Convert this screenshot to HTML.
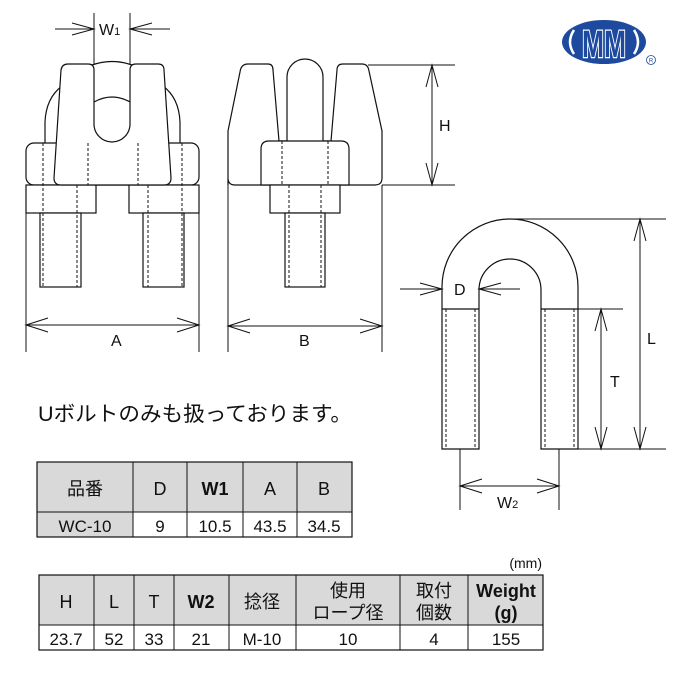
<!DOCTYPE html>
<html><head><meta charset="utf-8"><style>
html,body{margin:0;padding:0;background:#fff}
svg{display:block}
text{font-family:"Liberation Sans","Noto Sans CJK JP",sans-serif;fill:#111}
.l{stroke:#111;stroke-width:1.2;fill:none}
.f{stroke:#111;stroke-width:1.2;fill:#fff}
.d{stroke:#111;stroke-width:1;stroke-dasharray:3,2;fill:none}
.t{stroke:#111;stroke-width:1;fill:none}
</style></head><body>
<svg width="680" height="680" viewBox="0 0 680 680" xmlns="http://www.w3.org/2000/svg">
<!-- LEFT CLIP -->
<path class="l" d="M45,143 L45,122 Q46,98 62,86"/>
<path class="l" d="M180,143 L180,122 Q179,98 163,86"/>
<rect class="f" x="26" y="143" width="173" height="42" rx="8"/>
<rect class="f" x="26" y="185" width="70" height="28"/>
<rect class="f" x="129" y="185" width="70" height="28"/>
<rect class="f" x="40" y="213" width="41" height="74"/>
<rect class="f" x="143" y="213" width="41" height="74"/>
<path class="f" d="M68,64 L88,64 Q94,64 94,70 L94,124 A18,18 0 0 0 130,124 L130,70 Q130,64 136,64 L158,64 Q164,64 164,70 L171,178 Q171,185 164,185 L61,185 Q54,185 54,178 L61,70 Q62,64 68,64 Z"/>
<path class="l" d="M92,65 Q112,58 132,65"/>
<path class="l" d="M94,102 Q112,92 130,102"/>
<line class="d" x1="43" y1="143" x2="43" y2="287"/>
<line class="d" x1="77" y1="185" x2="77" y2="287"/>
<line class="d" x1="88" y1="143" x2="88" y2="185"/>
<line class="d" x1="138" y1="143" x2="138" y2="185"/>
<line class="d" x1="148" y1="185" x2="148" y2="287"/>
<line class="d" x1="182" y1="143" x2="182" y2="287"/>
<!-- W1 -->
<line class="t" x1="94" y1="13" x2="94" y2="64"/>
<line class="t" x1="130" y1="13" x2="130" y2="64"/>
<path class="t" d="M55,29 L94,29 M72,23 L94,29 L72,35"/>
<path class="t" d="M130,29 L170,29 M152,23 L130,29 L152,35"/>
<text x="99" y="35" font-size="16">W<tspan font-size="11">1</tspan></text>
<!-- A -->
<line class="t" x1="26" y1="185" x2="26" y2="352"/>
<line class="t" x1="199" y1="185" x2="199" y2="352"/>
<path class="t" d="M26,325 L199,325 M48,318 L26,325 L48,332 M177,318 L199,325 L177,332"/>
<text x="111" y="346" font-size="16">A</text>
<!-- MIDDLE CLIP -->
<path class="f" d="M228,185 L228,131 L240,72 Q241,64 248,64 L268,64 Q273,64 273,70 L279,141 L331,141 L337,70 Q337,64 343,64 L362,64 Q368,64 369,71 L382,131 L382,178 Q382,185 375,185 L235,185 Q228,185 228,178 Z"/>
<path class="f" d="M287,141 L287,77 A18,18 0 0 1 323,77 L323,141"/>
<path class="f" d="M261,185 L261,149 Q261,141 269,141 L341,141 Q349,141 349,149 L349,185 Z"/>
<rect class="f" x="270" y="185" width="70" height="28"/>
<rect class="f" x="285" y="213" width="40" height="74"/>
<line class="d" x1="282" y1="141" x2="282" y2="185"/>
<line class="d" x1="328" y1="141" x2="328" y2="185"/>
<line class="d" x1="289" y1="185" x2="289" y2="287"/>
<line class="d" x1="321" y1="185" x2="321" y2="287"/>
<!-- B -->
<line class="t" x1="228" y1="185" x2="228" y2="352"/>
<line class="t" x1="382" y1="185" x2="382" y2="352"/>
<path class="t" d="M228,326 L382,326 M250,319 L228,326 L250,333 M360,319 L382,326 L360,333"/>
<text x="299" y="346" font-size="16">B</text>
<!-- H -->
<line class="t" x1="368" y1="65" x2="455" y2="65"/>
<line class="t" x1="382" y1="185" x2="455" y2="185"/>
<path class="t" d="M432,65 L432,185 M426,87 L432,65 L438,87 M426,163 L432,185 L438,163"/>
<text x="439" y="131" font-size="16">H</text>
<!-- LOGO -->
<ellipse cx="604" cy="42" rx="42" ry="22" fill="#1d4a9e"/>
<path d="M574,30 Q566,42 574,54" stroke="#fff" stroke-width="2.5" fill="none"/>
<path d="M634,30 Q642,42 634,54" stroke="#fff" stroke-width="2.5" fill="none"/>
<text x="604" y="57" font-size="38" font-weight="bold" text-anchor="middle" style="fill:#1d4a9e;stroke:#fff;stroke-width:2.5;paint-order:stroke" textLength="44" lengthAdjust="spacingAndGlyphs">MM</text>
<circle cx="651" cy="60" r="4.5" fill="none" stroke="#1d4a9e" stroke-width="0.8"/>
<text x="651" y="62.5" font-size="6" text-anchor="middle" style="fill:#1d4a9e">R</text>
<!-- U BOLT -->
<path class="f" d="M442,449 L442,287 A68,68 0 0 1 578,287 L578,449 L541,449 L541,290 A31,31 0 0 0 479,290 L479,449 Z"/>
<line class="l" x1="442" y1="309" x2="479" y2="309"/>
<line class="l" x1="541" y1="309" x2="578" y2="309"/>
<line class="d" x1="446" y1="309" x2="446" y2="449"/>
<line class="d" x1="475" y1="309" x2="475" y2="449"/>
<line class="d" x1="545" y1="309" x2="545" y2="449"/>
<line class="d" x1="574" y1="309" x2="574" y2="449"/>
<path class="t" d="M400,289 L442,289 M420,283 L442,289 L420,295"/>
<path class="t" d="M479,289 L520,289 M501,283 L479,289 L501,295"/>
<text x="454" y="295" font-size="16">D</text>
<line class="t" x1="541" y1="309" x2="623" y2="309"/>
<line class="t" x1="510" y1="219" x2="666" y2="219"/>
<line class="t" x1="578" y1="449" x2="666" y2="449"/>
<path class="t" d="M601,309 L601,449 M595,331 L601,309 L607,331 M595,427 L601,449 L607,427"/>
<path class="t" d="M640,219 L640,449 M634,241 L640,219 L646,241 M634,427 L640,449 L646,427"/>
<text x="610" y="387" font-size="16">T</text>
<text x="647" y="344" font-size="16">L</text>
<line class="t" x1="460" y1="449" x2="460" y2="510"/>
<line class="t" x1="559" y1="449" x2="559" y2="510"/>
<path class="t" d="M460,486 L559,486 M482,479 L460,486 L482,493 M537,479 L559,486 L537,493"/>
<text x="497" y="508" font-size="16">W<tspan font-size="11">2</tspan></text>
<!-- NOTE -->
<text x="38" y="421" font-size="21" textLength="314" lengthAdjust="spacingAndGlyphs">Uボルトのみも扱っております。</text>
<!-- TABLE 1 -->
<rect x="37" y="462" width="315" height="50" fill="#d9d9d9"/>
<rect x="37" y="512" width="96" height="25" fill="#d9d9d9"/>
<rect x="37" y="462" width="315" height="75" fill="none" stroke="#111" stroke-width="1.2"/>
<path class="t" d="M37,512 L352,512 M133,462 L133,537 M187,462 L187,537 M243,462 L243,537 M297,462 L297,537"/>
<g font-size="18" text-anchor="middle">
<text x="85" y="495">品番</text><text x="160" y="495">D</text><text x="215" y="495" font-weight="bold">W1</text><text x="270" y="495">A</text><text x="324" y="495">B</text>
</g>
<g font-size="17" text-anchor="middle">
<text x="85" y="532">WC-10</text><text x="160" y="532">9</text><text x="215" y="532">10.5</text><text x="270" y="532">43.5</text><text x="324" y="532">34.5</text>
</g>
<!-- TABLE 2 -->
<text x="542" y="568" font-size="14" text-anchor="end">(mm)</text>
<rect x="39" y="575" width="504" height="50" fill="#d9d9d9"/>
<rect x="39" y="575" width="504" height="75" fill="none" stroke="#111" stroke-width="1.2"/>
<path class="t" d="M39,625 L543,625 M94,575 L94,650 M134,575 L134,650 M174,575 L174,650 M229,575 L229,650 M296,575 L296,650 M400,575 L400,650 M468,575 L468,650"/>
<g font-size="18" text-anchor="middle">
<text x="66" y="608">H</text><text x="114" y="608">L</text><text x="154" y="608">T</text><text x="201" y="608" font-weight="bold">W2</text><text x="262" y="608">捻径</text>
<text x="348" y="597">使用</text><text x="348" y="619">ロープ径</text>
<text x="434" y="597">取付</text><text x="434" y="619">個数</text>
<text x="506" y="597" font-weight="bold" font-family="Liberation Serif">Weight</text><text x="506" y="619" font-weight="bold" font-family="Liberation Serif">(g)</text>
</g>
<g font-size="17" text-anchor="middle">
<text x="66" y="645">23.7</text><text x="114" y="645">52</text><text x="154" y="645">33</text><text x="201" y="645">21</text><text x="262" y="645">M-10</text><text x="348" y="645">10</text><text x="434" y="645">4</text><text x="506" y="645">155</text>
</g>
</svg>
</body></html>
